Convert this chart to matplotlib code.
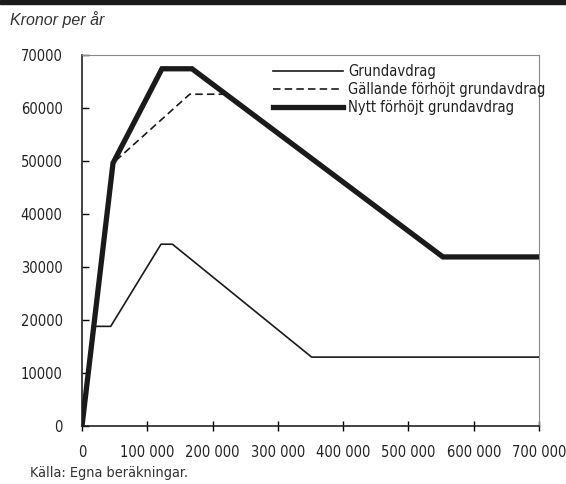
import matplotlib
matplotlib.use('Agg')
import matplotlib.pyplot as plt
from matplotlib import font_manager
from matplotlib.patches import Rectangle

# data (kronor)
inkomst_grund = [0, 18800, 44000, 121000, 138500, 351700, 700000]
grundavdrag = [0, 18800, 18800, 34300, 34300, 13000, 13000]

inkomst_gall = [0, 47500, 165000, 220000, 552800, 700000]
gallande = [0, 49600, 62600, 62600, 31900, 31900]

inkomst_nytt = [0, 47500, 122500, 168500, 552800, 700000]
nytt = [0, 49600, 67400, 67400, 31900, 31900]

y_ticks = [0, 10000, 20000, 30000, 40000, 50000, 60000, 70000]
x_ticks = [0, 100000, 200000, 300000, 400000, 500000, 600000, 700000]
x_labels = ['0', '100 000', '200 000', '300 000', '400 000', '500 000', '600 000', '700 000']

names = {f.name for f in font_manager.fontManager.ttflist}
if 'Liberation Sans Narrow' in names:
    cond = dict(family='Liberation Sans Narrow')
else:
    cond = dict(family='DejaVu Sans', stretch='condensed')

fig = plt.figure(figsize=(5.66, 4.84), dpi=100)
ax = fig.add_axes([82/566, 58/484, 457/566, 371/484])

ax.plot(inkomst_grund, grundavdrag, color='#1a1a1a', lw=1.2, label='Grundavdrag', zorder=2)
ax.plot(inkomst_gall, gallande, color='#1a1a1a', lw=1.2, ls=(0, (4.5, 2.5)),
        label='Gällande förhöjt grundavdrag', zorder=3)
ax.plot(inkomst_nytt, nytt, color='#1a1a1a', lw=3.8, label='Nytt förhöjt grundavdrag',
        zorder=4, solid_joinstyle='miter')

ax.set_xlim(0, 700000)
ax.set_ylim(0, 70000)
ax.set_yticks(y_ticks)
ax.set_yticklabels([str(v) for v in y_ticks])
ax.set_xticks(x_ticks)
ax.set_xticklabels(x_labels)

ax.tick_params(axis='y', direction='in', length=5, width=1, pad=14, labelsize=10.5)
ax.tick_params(axis='x', direction='inout', length=7, width=1, pad=10, labelsize=10.5)
for lab in ax.get_xticklabels() + ax.get_yticklabels():
    lab.set_fontproperties(font_manager.FontProperties(size=10.5, **cond))
    lab.set_color('#222222')

ax.spines['left'].set_color('#222222')
ax.spines['bottom'].set_color('#222222')
ax.spines['left'].set_linewidth(1.2)
ax.spines['bottom'].set_linewidth(1.2)
ax.spines['top'].set_color('#888888')
ax.spines['right'].set_color('#888888')

leg = ax.legend(loc='upper left', bbox_to_anchor=(0.418, 0.975), frameon=False,
                handlelength=4.75, handletextpad=0.35, labelspacing=0.2,
                borderpad=0, borderaxespad=0,
                prop=font_manager.FontProperties(size=10.6, **cond))
for t in leg.get_texts():
    t.set_color('#222222')

fig.text(10/566, 1 - 20/484, 'Kronor per år', fontsize=11.5, style='italic',
         family='Liberation Sans', color='#333333', va='center', ha='left')
fig.text(30/566, 1 - 473/484, 'Källa: Egna beräkningar.', color='#333333',
         va='center', ha='left', fontproperties=font_manager.FontProperties(size=10.4, **cond))

fig.patches.append(Rectangle((0, 1 - 4/484), 1, 4/484, transform=fig.transFigure,
                             color='#1a1a1a', zorder=0))

fig.savefig('out.png', dpi=100)
